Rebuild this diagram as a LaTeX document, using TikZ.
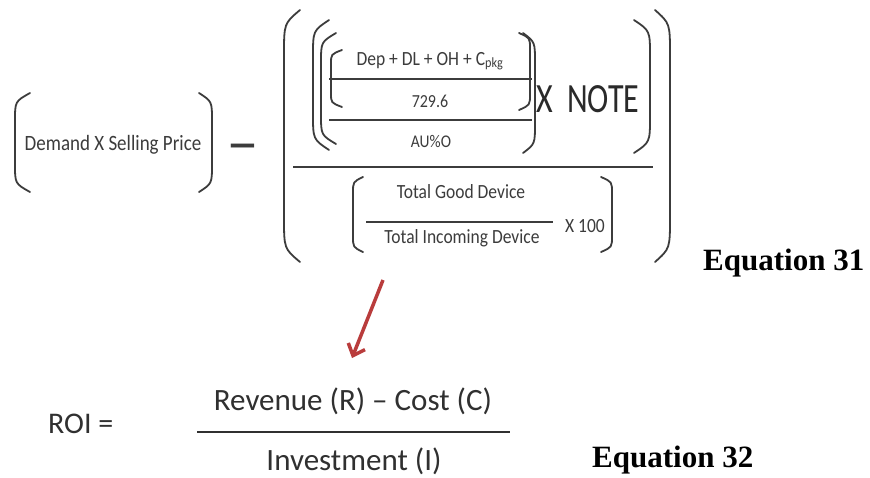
\documentclass[tikz,border=0pt]{standalone}
\usepackage{fontspec}
\setmainfont{Carlito}
\newfontfamily\eqfont{Liberation Serif}
\usetikzlibrary{arrows.meta}
\newcommand\fs[1]{\fontsize{#1}{#1}\selectfont}
\newcommand\vs[1]{\scalebox{1}[1.15]{#1}}
% left paren: spine x, end x, top y, bottom y, curl length
\newcommand\mylp[5]{\draw[paren] (#2,#3) .. controls (#1,{#3+0.3*#5}) .. (#1,{#3+#5}) -- (#1,{#4-#5}) .. controls (#1,{#4-0.3*#5}) .. (#2,#4);}
% right paren: end x, spine x, top y, bottom y, curl length
\newcommand\myrp[5]{\draw[paren] (#1,#3) .. controls (#2,{#3+0.3*#5}) .. (#2,{#3+#5}) -- (#2,{#4-#5}) .. controls (#2,{#4-0.3*#5}) .. (#1,#4);}
\definecolor{ink}{RGB}{60,60,60}
\definecolor{arrred}{RGB}{185,60,60}
\begin{document}
\begin{tikzpicture}[x=1pt,y=-1pt,
  paren/.style={draw=ink,line width=1.8pt,line cap=round},
  fracline/.style={draw=ink,line width=1.8pt},
  txt/.style={inner sep=0pt,anchor=base,text=ink},
  eqlabel/.style={inner sep=0pt,anchor=base west,font=\eqfont\bfseries\fs{31}},
  redarrow/.style={draw=arrred,line width=3.5pt,-{Straight Barb[length=10pt,width=18pt,line width=3.5pt]}}]
\useasboundingbox[fill=white] (0,0) rectangle (870,477);

% ---- Equation 31 ----
\node[txt,font=\fs{19}] (dsp) at (113,150) {\vs{Demand X Selling Price}};
\mylp{15}{30}{93}{192}{28}
\myrp{199}{212}{93}{192}{28}
\node[txt,font=\bfseries\fs{44}] (minus) at (243,158) {\scalebox{1.5}[1]{–}};

% big outer parens
\mylp{284}{300}{10}{262}{45}
\myrp{655}{670}{10}{262}{45}
% numerator parens
\mylp{313}{329}{20}{150}{36}
\mylp{321}{336}{33}{144}{30}
\mylp{331}{342}{50}{107}{14}
\myrp{519}{530}{33}{110}{16}
\myrp{523}{535}{33}{153}{30}
\myrp{634}{650}{20}{153}{36}

\node[txt,font=\fs{17.5}] (costs) at (430,65) {\vs{Dep + DL + OH + C\textsubscript{pkg}}};
\draw[fracline] (329,79) -- (532,79);
\node[txt,font=\fs{16}] (num) at (430,107) {\vs{729.6}};
\draw[fracline] (329,120) -- (532,120);
\node[txt,font=\fs{15.5}] (au) at (431,147) {\vs{AU\%O}};
\node[txt,anchor=base west,font=\fs{32},text=ink!70!black] (note) at (536,112) {\scalebox{1}[1.3]{X\ \ NOTE}};

% main fraction line
\draw[fracline] (293,167) -- (653,167);

% denominator
\mylp{353}{363}{177}{252}{16}
\myrp{601}{612}{177}{252}{16}
\node[txt,font=\fs{17.5}] (good) at (461,198) {\vs{Total Good Device}};
\draw[fracline] (366,222) -- (553,222);
\node[txt,font=\fs{17.5}] (inc) at (462,243) {\vs{Total Incoming Device}};
\node[txt,font=\fs{17.5}] (hund) at (585,232) {\vs{X 100}};

\node[eqlabel] (eq31) at (703,270) {Equation 31};

% ---- arrow ----
\coordinate (arrS) at (383,280);
\coordinate (arrE) at (352,358);
\draw[redarrow] (arrS) -- (arrE);

% ---- Equation 32 ----
\node[txt,anchor=base west,font=\fs{30},text=ink!80!black] (roi) at (48,433) {ROI =};
\node[txt,font=\fs{31},text=ink!80!black] (rev) at (353,410) {Revenue (R) – Cost (C)};
\draw[draw=ink!80!black,line width=2.5pt] (197,432) -- (510,432);
\node[txt,font=\fs{31},text=ink!80!black] (inv) at (354,470) {Investment (I)};
\node[eqlabel] (eq32) at (592,467) {Equation 32};
\end{tikzpicture}
\end{document}
